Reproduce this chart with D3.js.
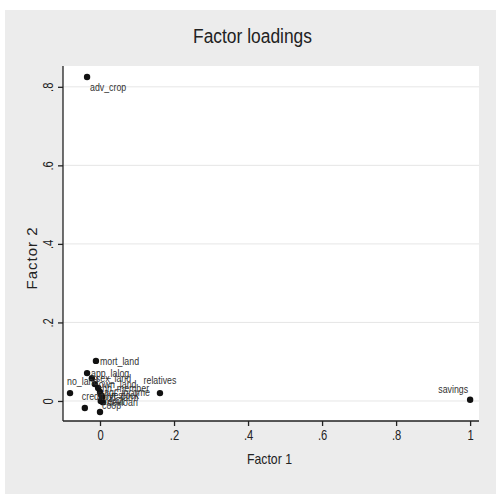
<!DOCTYPE html>
<html>
<head>
<meta charset="utf-8">
<script src="https://cdn.jsdelivr.net/npm/d3@7"></script>
<style>
  body { margin: 0; background: #fff; }
  text { font-family: "Liberation Sans Narrow", "Liberation Sans", Arial, sans-serif; }
</style>
</head>
<body>
<script>
// factor loadings
var names = ["adv_crop", "savings", "mort_land", "app_lalog", "sex_land", "no_land",
             "relatives", "credit", "hh_member", "agr_income", "livestock", "off_farm",
             "devloan", "own_land", "coop", "remit"];
var factor1 = [-0.035, 1.0, -0.011, -0.035, -0.022, -0.081,
               0.162, -0.041, -0.005, 0.0, 0.003, 0.006,
               0.008, -0.014, 0.0, 0.002];
var factor2 = [0.825, 0.003, 0.102, 0.071, 0.058, 0.020,
               0.020, -0.018, 0.033, 0.023, 0.015, 0.010,
               -0.003, 0.043, -0.028, 0.0];
var xTicks = [0, 0.2, 0.4, 0.6, 0.8, 1];
var yTicks = [0, 0.2, 0.4, 0.6, 0.8];

// stata-style clock position of each marker label
var labelPos = {adv_crop: 4, savings: 10, relatives: 12, no_land: 1, credit: 1, coop: 0};

var w = 496, h = 494;
var margin = {top: 66, right: 17, bottom: 73, left: 63};
var width = w - margin.left - margin.right;
var height = h - margin.top - margin.bottom;
var squeeze = 0.8;   // fake a narrow font

var points = names.map(function(n, i){
  return {name: n, f1: factor1[i], f2: factor2[i]};
});

var svg = d3.select("body").append("svg")
            .attr("width", w)
            .attr("height", h);

// outer gray panel
svg.append("rect")
   .attr("x", 5).attr("y", 10)
   .attr("width", w - 5).attr("height", h - 10)
   .attr("fill", "#ececec");

svg.append("text")
   .attr("x", 193).attr("y", 43)
   .attr("textLength", 119)
   .attr("lengthAdjust", "spacingAndGlyphs")
   .attr("font-size", 20)
   .attr("fill", "#222")
   .text("Factor loadings");

var chart = svg.append("g")
               .attr("transform", "translate(" + margin.left + "," + margin.top + ")");

chart.append("rect")
     .attr("width", width).attr("height", height)
     .attr("fill", "#fff");

var x = d3.scaleLinear().domain([-0.1, 1.024]).range([0, width]);
var y = d3.scaleLinear().domain([-0.051, 0.853]).range([height, 0]);

// gridlines
chart.append("g")
     .selectAll("line")
     .data(yTicks)
     .enter().append("line")
       .attr("x1", 0).attr("x2", width)
       .attr("y1", function(d){ return y(d); })
       .attr("y2", function(d){ return y(d); })
       .attr("stroke", "#e6e6e6")
       .attr("stroke-width", 1);

var fmt = function(d){ return d === 0 ? "0" : d === 1 ? "1" : d3.format(".1f")(d).replace(/^0/, ""); };

var xAxis = d3.axisBottom(x).tickValues(xTicks).tickFormat(fmt).tickSize(5).tickPadding(4);
var yAxis = d3.axisLeft(y).tickValues(yTicks).tickFormat(fmt).tickSize(5).tickPadding(4);

var gx = chart.append("g")
     .attr("transform", "translate(0," + height + ")")
     .call(xAxis);
gx.select(".domain").attr("d", "M0,0H" + width).attr("stroke", "#222").attr("stroke-width", 1.3);
gx.selectAll(".tick line").attr("stroke", "#222").attr("stroke-width", 1.3);
gx.selectAll(".tick text").attr("font-size", 14).attr("fill", "#222")
  .attr("transform", "scale(" + squeeze + ",1)");

var gy = chart.append("g").call(yAxis);
gy.select(".domain").attr("d", "M0," + height + "V0").attr("stroke", "#222").attr("stroke-width", 1.3);
gy.selectAll(".tick line").attr("stroke", "#222").attr("stroke-width", 1.3);
gy.selectAll(".tick text")
  .attr("font-size", 14).attr("fill", "#222")
  .attr("text-anchor", "middle")
  .attr("x", null)
  .attr("transform", "translate(-15,0) rotate(-90) scale(" + squeeze + ",1)")
  .attr("y", 0).attr("dy", "0.35em");

// axis titles
svg.append("text")
   .attr("x", 247).attr("y", 464)
   .attr("textLength", 45)
   .attr("lengthAdjust", "spacingAndGlyphs")
   .attr("font-size", 15)
   .attr("fill", "#222")
   .text("Factor 1");

svg.append("text")
   .attr("transform", "translate(37,258) rotate(-90)")
   .attr("text-anchor", "middle")
   .attr("font-size", 15)
   .attr("letter-spacing", 1)
   .attr("fill", "#222")
   .text("Factor 2");

// markers
chart.selectAll(".point")
     .data(points)
     .enter().append("circle")
       .classed("point", true)
       .attr("cx", function(d){ return x(d.f1); })
       .attr("cy", function(d){ return y(d.f2); })
       .attr("r", 3.2)
       .attr("fill", "#111");

function place(d){
  var p = labelPos[d.name] !== undefined ? labelPos[d.name] : 3;
  if (p === 4) return {dx: 3, dy: 14, anchor: "start"};
  if (p === 10) return {dx: -2, dy: -7, anchor: "end"};
  if (p === 12) return {dx: 0, dy: -9, anchor: "middle"};
  if (p === 1) return {dx: -3, dy: -8, anchor: "start"};
  if (p === 0) return {dx: 2, dy: -3, anchor: "start"};
  return {dx: 4, dy: 4, anchor: "start"};
}

chart.selectAll(".lbl")
     .data(points)
     .enter().append("text")
       .classed("lbl", true)
       .attr("transform", function(d){
         var p = place(d);
         return "translate(" + (x(d.f1) + p.dx) + "," + (y(d.f2) + p.dy) + ") scale(" + squeeze + ",1)";
       })
       .attr("text-anchor", function(d){ return place(d).anchor; })
       .attr("font-size", 11)
       .attr("fill", "#333")
       .text(function(d){ return d.name; });
</script>
</body>
</html>
